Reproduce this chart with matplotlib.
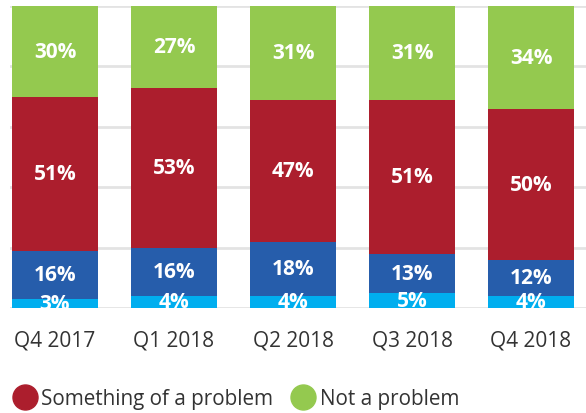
import matplotlib
matplotlib.use("Agg")
import matplotlib.pyplot as plt
from matplotlib.lines import Line2D
import numpy as np

plt.rcParams["font.family"] = ["Open Sans", "DejaVu Sans"]

quarters = ["Q4 2017", "Q1 2018", "Q2 2018", "Q3 2018", "Q4 2018"]
light_blue_vals = [3, 4, 4, 5, 4]
blue_vals = [16, 16, 18, 13, 12]
something_vals = [51, 53, 47, 51, 50]
not_problem_vals = [30, 27, 31, 31, 34]

series = [light_blue_vals, blue_vals, something_vals, not_problem_vals]
colors = ["#00aeef", "#265dab", "#ac1e2d", "#94c94f"]

fig = plt.figure(figsize=(5.86, 4.14), dpi=100)
ax = fig.add_axes([10 / 586, 1 - 309 / 414, 576 / 586, 302 / 414])

x = np.arange(len(quarters))
bottom = np.zeros(len(quarters))
for vals, col in zip(series, colors):
    vals = np.array(vals)
    ax.bar(x, vals, bottom=bottom, width=0.723, color=col, zorder=2)
    for xi, b, v in zip(x, bottom, vals):
        ax.text(xi, b + v / 2, f"{v}%", ha="center", va="center",
                color="white", fontsize=15, fontweight="bold", zorder=3)
    bottom += vals

ax.set_xlim(-0.378, 4.462)
ax.set_ylim(0, 100)
ax.set_yticks([0, 20, 40, 60, 80, 100])
ax.yaxis.grid(True, color="#e3e3e3", linewidth=2, zorder=0)
ax.tick_params(left=False, bottom=False, labelleft=False, pad=12)
ax.set_xticks(x)
ax.set_xticklabels(quarters, fontsize=15, color="#333333")
for s in ax.spines.values():
    s.set_visible(False)

handles = [
    Line2D([], [], marker="o", ls="", markersize=18, color="#ac1e2d"),
    Line2D([], [], marker="o", ls="", markersize=18, color="#94c94f"),
]
fig.legend(handles, ["Something of a problem", "Not a problem"],
           loc="center left", bbox_to_anchor=(15 / 586, 1 - 400 / 414), ncol=2,
           frameon=False, fontsize=14.9, handlelength=1.0, handletextpad=0.28,
           columnspacing=0.95, borderpad=0, borderaxespad=0, labelcolor="#333333")

fig.savefig("out.png", dpi=100)
